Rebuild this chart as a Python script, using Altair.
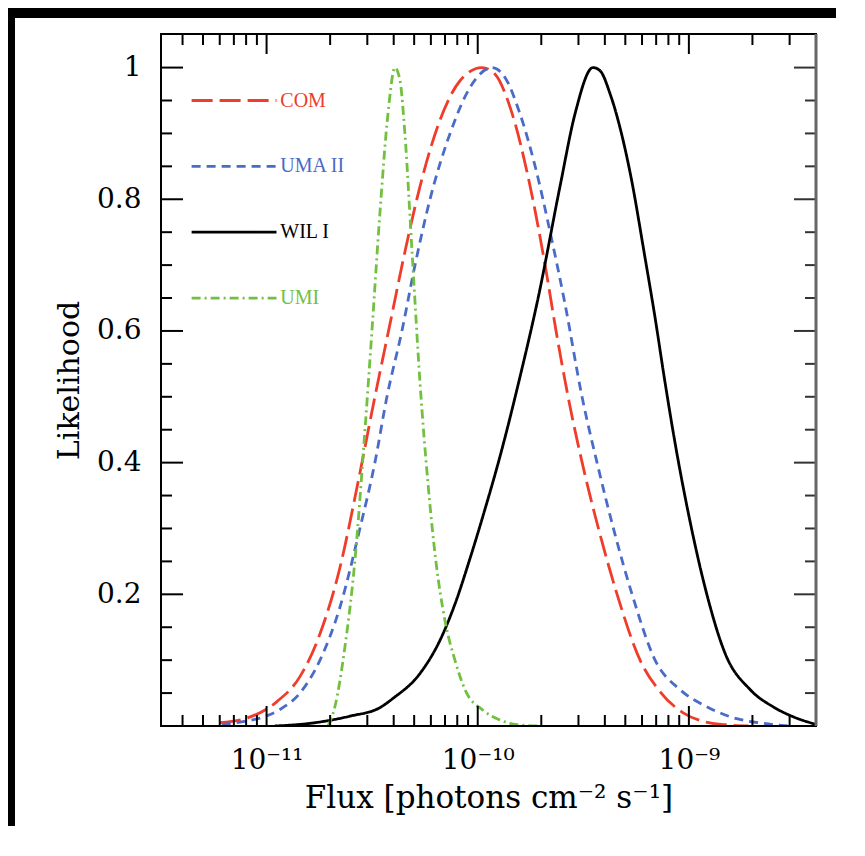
import altair as alt
import pandas as pd

FONT = "DejaVu Serif"
SERIES = ["COM", "UMA II", "WIL I", "UMI"]
COLORS = ["#f03c2a", "#4a6bc8", "#000000", "#72c03f"]
DASHES = [[21, 7], [9, 6], [1, 0], [9, 4, 2, 4]]

# log10(flux) and likelihood
com_logflux = [-11.221, -11.093, -10.951, -10.842, -10.747, -10.653, -10.567, -10.487, -10.416, -10.345,
               -10.273, -10.179, -10.084, -9.980, -9.918, -9.847, -9.752, -9.681, -9.629, -9.572,
               -9.491, -9.420, -9.340, -9.231, -9.136, -9.027, -8.932, -8.828, -8.719]
com_like = [0.005, 0.012, 0.037, 0.075, 0.14, 0.24, 0.37, 0.50, 0.61, 0.72,
            0.82, 0.92, 0.98, 1.00, 0.99, 0.94, 0.82, 0.70, 0.60, 0.50,
            0.38, 0.29, 0.20, 0.10, 0.052, 0.020, 0.007, 0.002, 0.0]

uma_logflux = [-11.212, -11.127, -11.032, -10.937, -10.842, -10.747, -10.653, -10.558, -10.487, -10.430,
               -10.359, -10.297, -10.226, -10.131, -10.036, -9.932, -9.871, -9.800, -9.728, -9.657,
               -9.586, -9.506, -9.435, -9.349, -9.269, -9.160, -9.041, -8.913, -8.804, -8.648, -8.520]
uma_like = [0.002, 0.006, 0.012, 0.025, 0.05, 0.10, 0.18, 0.30, 0.40, 0.50,
            0.60, 0.70, 0.80, 0.90, 0.97, 1.00, 0.985, 0.93, 0.85, 0.75,
            0.64, 0.50, 0.40, 0.29, 0.20, 0.10, 0.055, 0.029, 0.014, 0.004, 0.0]

wil_logflux = [-10.961, -10.795, -10.605, -10.463, -10.401, -10.273, -10.179, -10.108, -10.036, -9.965,
               -9.894, -9.800, -9.714, -9.610, -9.539, -9.454, -9.420, -9.373, -9.278, -9.207,
               -9.160, -9.112, -9.060, -8.994, -8.923, -8.828, -8.709, -8.600, -8.506, -8.392]
wil_like = [0.0, 0.004, 0.015, 0.028, 0.042, 0.08, 0.13, 0.185, 0.255, 0.33,
            0.41, 0.53, 0.65, 0.82, 0.93, 1.00, 0.995, 0.96, 0.84, 0.71,
            0.62, 0.52, 0.42, 0.31, 0.21, 0.11, 0.055, 0.029, 0.014, 0.002]

umi_logflux = [-10.709, -10.676, -10.629, -10.582, -10.534, -10.501, -10.463, -10.425, -10.392, -10.368,
               -10.345, -10.311, -10.273, -10.236, -10.198, -10.155, -10.108, -10.060, -9.975, -9.894,
               -9.814, -9.705]
umi_like = [0.0, 0.03, 0.12, 0.25, 0.45, 0.60, 0.78, 0.93, 1.00, 0.98,
            0.90, 0.72, 0.52, 0.37, 0.25, 0.16, 0.10, 0.055, 0.024, 0.009,
            0.002, 0.0]

# in-plot legend (log10 flux span of the sample lines, likelihood of each row)
legend_logflux = [-11.355, -10.953]
legend_text_logflux = -10.935
legend_like = [0.95, 0.85, 0.75, 0.65]

# axis ticks
x_label_vals = [1e-11, 1e-10, 1e-9]
x_minor = [4e-12, 5e-12, 6e-12, 7e-12, 8e-12, 9e-12,
           2e-11, 3e-11, 4e-11, 5e-11, 6e-11, 7e-11, 8e-11, 9e-11,
           2e-10, 3e-10, 4e-10, 5e-10, 6e-10, 7e-10, 8e-10, 9e-10,
           2e-9, 3e-9]
y_label_vals = [0.2, 0.4, 0.6, 0.8, 1.0]
y_minor = [0.05, 0.1, 0.15, 0.25, 0.3, 0.35, 0.45, 0.5, 0.55, 0.65, 0.7, 0.75, 0.85, 0.9, 0.95]

rows = []
for name, lf, lk in [("COM", com_logflux, com_like), ("UMA II", uma_logflux, uma_like),
                     ("WIL I", wil_logflux, wil_like), ("UMI", umi_logflux, umi_like)]:
    for i, (a, b) in enumerate(zip(lf, lk)):
        rows.append({"series": name, "flux": 10 ** a, "like": b, "i": i})
curves = pd.DataFrame(rows)

leg_rows = []
for name, yv in zip(SERIES, legend_like):
    for i, a in enumerate(legend_logflux):
        leg_rows.append({"series": name, "flux": 10 ** a, "like": yv, "i": i})
leg = pd.DataFrame(leg_rows)
leg_txt = pd.DataFrame({"series": SERIES, "flux": [10 ** legend_text_logflux] * 4, "like": legend_like})

W, H = 655, 692
PAD_R, PAD_B = 20, 100
xscale = alt.Scale(type="log", domain=[10 ** -11.5, 4e-9], nice=False)
yscale = alt.Scale(domain=[0, 1.051], nice=False, zero=False)

x_axis = alt.Axis(values=x_label_vals,
                  labelExpr="datum.value < 5e-11 ? '10⁻¹¹' : (datum.value < 5e-10 ? '10⁻¹⁰' : '10⁻⁹')",
                  ticks=False, domain=False, grid=False, labelFont=FONT, labelFontSize=28,
                  labelColor="black", labelPadding=20, labelFlush=False,
                  title="Flux [photons cm⁻² s⁻¹]", titleFont=FONT, titleFontSize=31,
                  titleFontWeight="normal", titleColor="black", titlePadding=9, zindex=1)
y_axis = alt.Axis(values=y_label_vals,
                  labelExpr="datum.value == 1 ? '1' : format(datum.value, '.1f')",
                  ticks=False, domain=False, grid=False, labelFont=FONT, labelFontSize=28,
                  labelColor="black", labelPadding=20, labelFlush=False,
                  title="Likelihood", titleFont=FONT, titleFontSize=30,
                  titleFontWeight="normal", titleColor="black", titlePadding=12, zindex=1)

X = alt.X("flux:Q", scale=xscale, axis=x_axis)
Y = alt.Y("like:Q", scale=yscale, axis=y_axis)
color = alt.Color("series:N", scale=alt.Scale(domain=SERIES, range=COLORS), legend=None)
dash = alt.StrokeDash("series:N", scale=alt.Scale(domain=SERIES, range=DASHES), legend=None)

one = pd.DataFrame({"a": [0]})
top_strip = alt.Chart(one).mark_rect(color="black").encode(
    x=alt.value(-153), x2=alt.value(W + PAD_R), y=alt.value(-26), y2=alt.value(-16))
left_strip = alt.Chart(one).mark_rect(color="black").encode(
    x=alt.value(-153), x2=alt.value(-146), y=alt.value(-26), y2=alt.value(H + PAD_B))

lines = alt.Chart(curves).mark_line(strokeWidth=2.8, clip=True, interpolate="monotone").encode(
    x=X, y=Y, color=color, strokeDash=dash, detail="series:N", order="i:Q")

leg_lines = alt.Chart(leg).mark_line(strokeWidth=2.8).encode(
    x=X, y=Y, color=color, strokeDash=dash, detail="series:N", order="i:Q")

leg_text = alt.Chart(leg_txt).mark_text(font="Liberation Serif", fontSize=20, align="left",
                                        baseline="middle").encode(
    x=X, y=Y, text="series:N", color=color)

xt_major = pd.DataFrame({"flux": x_label_vals})
xt_minor = pd.DataFrame({"flux": x_minor})
yt_major = pd.DataFrame({"like": y_label_vals})
yt_minor = pd.DataFrame({"like": y_minor})

TW = 2
tick_layers = []
for df, ln in [(xt_major, 20), (xt_minor, 11)]:
    tick_layers.append(alt.Chart(df).mark_rule(color="black", strokeWidth=TW).encode(
        x=X, y=alt.value(H), y2=alt.value(H - ln)))
    tick_layers.append(alt.Chart(df).mark_rule(color="black", strokeWidth=TW).encode(
        x=X, y=alt.value(0), y2=alt.value(ln)))
for df, ln in [(yt_major, 22), (yt_minor, 11)]:
    tick_layers.append(alt.Chart(df).mark_rule(color="black", strokeWidth=TW).encode(
        y=Y, x=alt.value(0), x2=alt.value(ln)))
    tick_layers.append(alt.Chart(df).mark_rule(color="#333333", strokeWidth=TW).encode(
        y=Y, x=alt.value(W), x2=alt.value(W - ln)))

frame = alt.Chart(one).mark_rect(fillOpacity=0, stroke="black", strokeWidth=2).encode(
    x=alt.value(0), x2=alt.value(W), y=alt.value(0), y2=alt.value(H))
right_edge = alt.Chart(one).mark_rule(color="#666666", strokeWidth=3).encode(
    x=alt.value(W), y=alt.value(0), y2=alt.value(H))

chart = alt.layer(top_strip, left_strip, lines, leg_lines, leg_text, *tick_layers, frame, right_edge).properties(
    width=W, height=H,
    padding={"left": 153, "top": 26, "right": PAD_R, "bottom": PAD_B},
    autosize=alt.AutoSizeParams(type="none"),
).configure_view(stroke=None)

chart.save("out.html", embed_options={"renderer": "svg", "actions": False})
